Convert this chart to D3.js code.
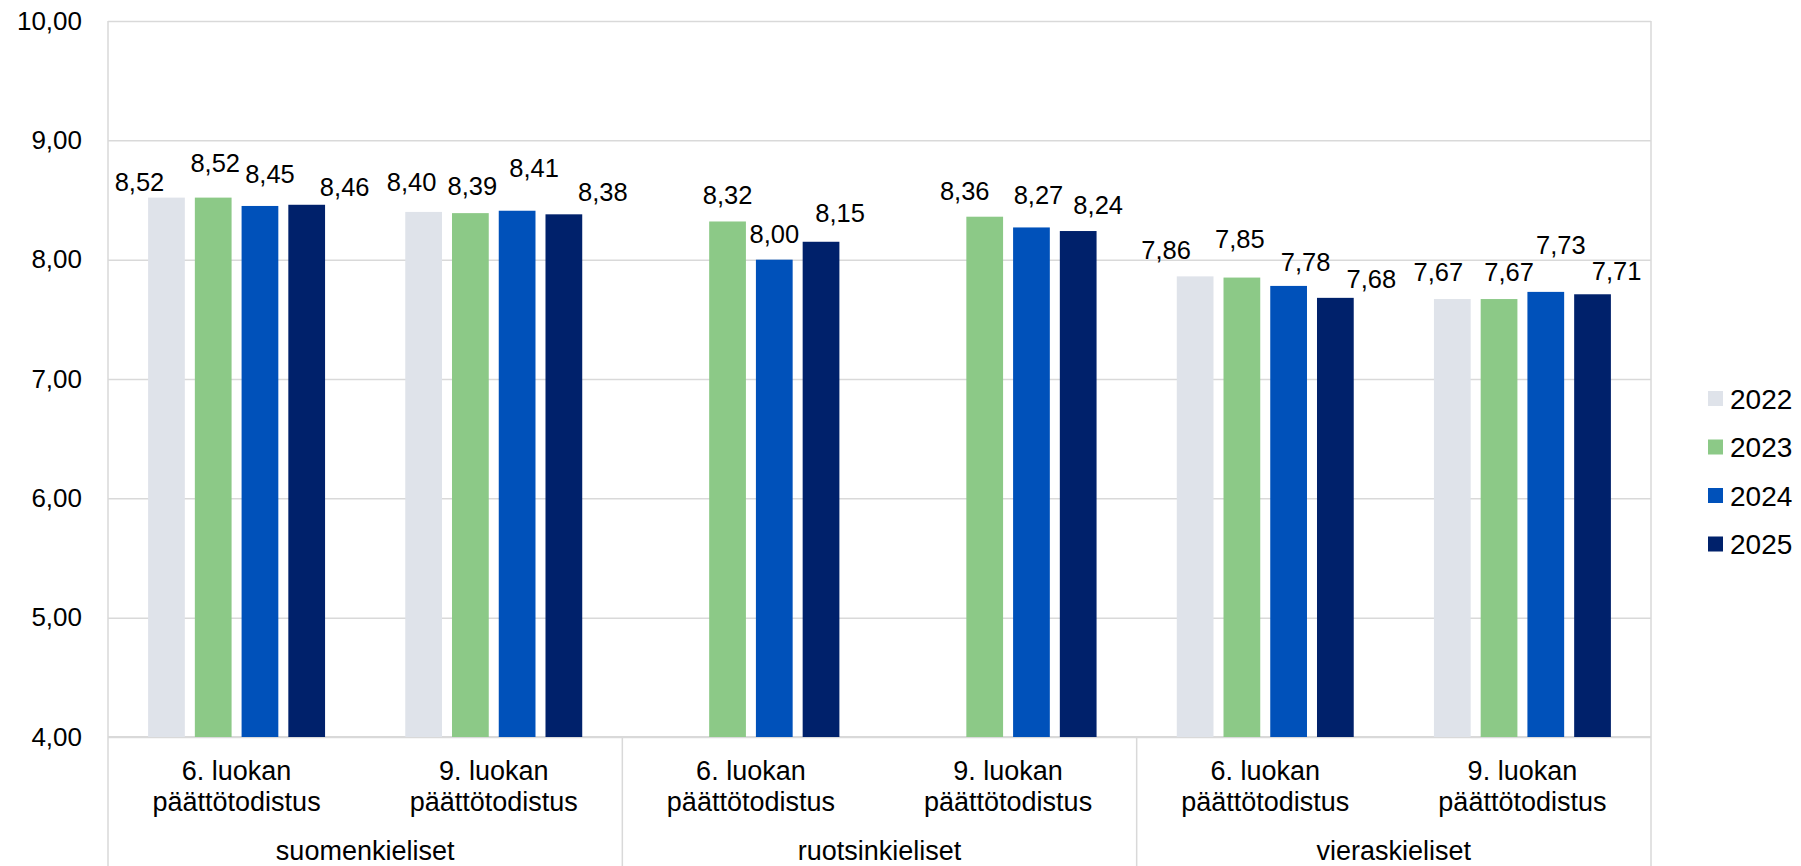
<!DOCTYPE html>
<html>
<head>
<meta charset="utf-8">
<script src="https://cdn.jsdelivr.net/npm/d3@7"></script>
<style>
  body { margin: 0; background: #fff; }
  text { font-family: "Liberation Sans", Arial, sans-serif; fill: #000; }
</style>
</head>
<body>
<div id="chart"></div>
<script>
// Data
var groups = ["suomenkieliset", "ruotsinkieliset", "vieraskieliset"];
var subLabels = ["6. luokan|päättötodistus", "9. luokan|päättötodistus",
                 "6. luokan|päättötodistus", "9. luokan|päättötodistus",
                 "6. luokan|päättötodistus", "9. luokan|päättötodistus"];
var years = ["2022", "2023", "2024", "2025"];
var v2022 = [8.52, 8.40, null, null, 7.86, 7.67];
var v2023 = [8.52, 8.39, 8.32, 8.36, 7.85, 7.67];
var v2024 = [8.45, 8.41, 8.00, 8.27, 7.78, 7.73];
var v2025 = [8.46, 8.38, 8.15, 8.24, 7.68, 7.71];
var yTicks = [4, 5, 6, 7, 8, 9, 10];

var colors = ["#dfe3ea", "#8cc987", "#0051ba", "#00216b"];

// label nudges (hand-placed labels in the original), px from bar centre / bar top
var labelDx = [[-27, -12, 0, 0, -29, -14], [2, 2, 0, -20, -2, 10],
               [10, 17, 0, 7, 17, 15], [38, 39, 19, 20, 36, 24]];
var labelDy = [[-7, -21, 0, 0, -17, -18], [-26, -18, -17, -17, -30, -18],
               [-23, -34, -17, -23, -15, -38], [-9, -13, -20, -17, -10, -14]];

var series = [v2022, v2023, v2024, v2025];

//SVG area
var svgWidth = 1801;
var svgHeight = 866;
var margin = { top: 21, right: 150, bottom: 129, left: 108 };
var width = svgWidth - margin.left - margin.right;
var height = svgHeight - margin.top - margin.bottom;

var svg = d3.select("#chart")
  .append("svg")
  .attr("width", svgWidth)
  .attr("height", svgHeight);

var chartGroup = svg.append("g")
  .attr("transform", `translate(${margin.left}, ${margin.top})`);

// Scales
var subIdx = d3.range(subLabels.length);
var x0 = d3.scaleBand().domain(subIdx).range([0, width]).padding(0);
var x1 = d3.scaleBand().domain(years).range([0, x0.bandwidth()])
  .paddingInner(0.214).paddingOuter(0.858);
var y = d3.scaleLinear().domain([4, 10]).range([height, 0]);

var fmt = function(d) { return d3.format(".2f")(d).replace(".", ","); };

// Gridlines + y axis labels
var yAxis = d3.axisLeft(y).tickValues(yTicks).tickSize(-width).tickPadding(26).tickFormat(fmt);
var yg = chartGroup.append("g").call(yAxis);
yg.select(".domain").remove();
yg.selectAll(".tick line").attr("stroke", "#d9d9d9").attr("stroke-width", 1.5);
yg.selectAll(".tick text")
  .style("font-size", "26px")
  .attr("fill", "#000")
  .style("font-family", "'Liberation Sans', Arial, sans-serif");

// frame lines
chartGroup.append("line")
  .attr("x1", 0).attr("x2", 0).attr("y1", 0).attr("y2", svgHeight - margin.top)
  .attr("stroke", "#d9d9d9").attr("stroke-width", 1.5);
chartGroup.append("line")
  .attr("x1", width).attr("x2", width).attr("y1", 0).attr("y2", svgHeight - margin.top)
  .attr("stroke", "#d9d9d9").attr("stroke-width", 1.5);
chartGroup.append("line")
  .attr("x1", 0).attr("x2", width).attr("y1", height).attr("y2", height)
  .attr("stroke", "#d9d9d9").attr("stroke-width", 2);

// group separators
groups.forEach(function(g, i) {
  if (i === 0) return;
  var xs = x0(i * 2);
  chartGroup.append("line")
    .attr("x1", xs).attr("x2", xs).attr("y1", height).attr("y2", svgHeight - margin.top)
    .attr("stroke", "#d9d9d9").attr("stroke-width", 1.5);
});

// Bars
series.forEach(function(vals, si) {
  var pts = subIdx.map(function(i) { return { i: i, v: vals[i] }; })
    .filter(function(d) { return d.v !== null; });

  chartGroup.append("g").selectAll("rect")
    .data(pts)
    .enter()
    .append("rect")
    .attr("x", d => x0(d.i) + x1(years[si]))
    .attr("y", d => y(d.v))
    .attr("width", x1.bandwidth())
    .attr("height", d => height - y(d.v))
    .attr("fill", colors[si]);

  chartGroup.append("g").selectAll("text")
    .data(pts)
    .enter()
    .append("text")
    .attr("x", d => x0(d.i) + x1(years[si]) + x1.bandwidth() / 2 + labelDx[si][d.i])
    .attr("y", d => y(d.v) + labelDy[si][d.i])
    .attr("text-anchor", "middle")
    .style("font-size", "25.5px")
    .text(d => fmt(d.v));
});

// Category labels
subIdx.forEach(function(i) {
  var parts = subLabels[i].split("|");
  var t = chartGroup.append("text")
    .attr("text-anchor", "middle")
    .style("font-size", "27px");
  parts.forEach(function(p, k) {
    t.append("tspan")
      .attr("x", x0(i) + x0.bandwidth() / 2)
      .attr("y", height + 43 + k * 31)
      .text(p);
  });
});

groups.forEach(function(g, i) {
  chartGroup.append("text")
    .attr("x", x0(i * 2) + x0.bandwidth())
    .attr("y", height + 123)
    .attr("text-anchor", "middle")
    .style("font-size", "27px")
    .text(g);
});

// Legend
var legend = svg.append("g").attr("transform", "translate(1708, 391)");
years.forEach(function(yr, i) {
  legend.append("rect")
    .attr("x", 0).attr("y", i * 48.5)
    .attr("width", 15).attr("height", 15)
    .attr("fill", colors[i]);
  legend.append("text")
    .attr("x", 22).attr("y", i * 48.5 + 17.5)
    .style("font-size", "28px")
    .text(yr);
});
</script>
</body>
</html>
